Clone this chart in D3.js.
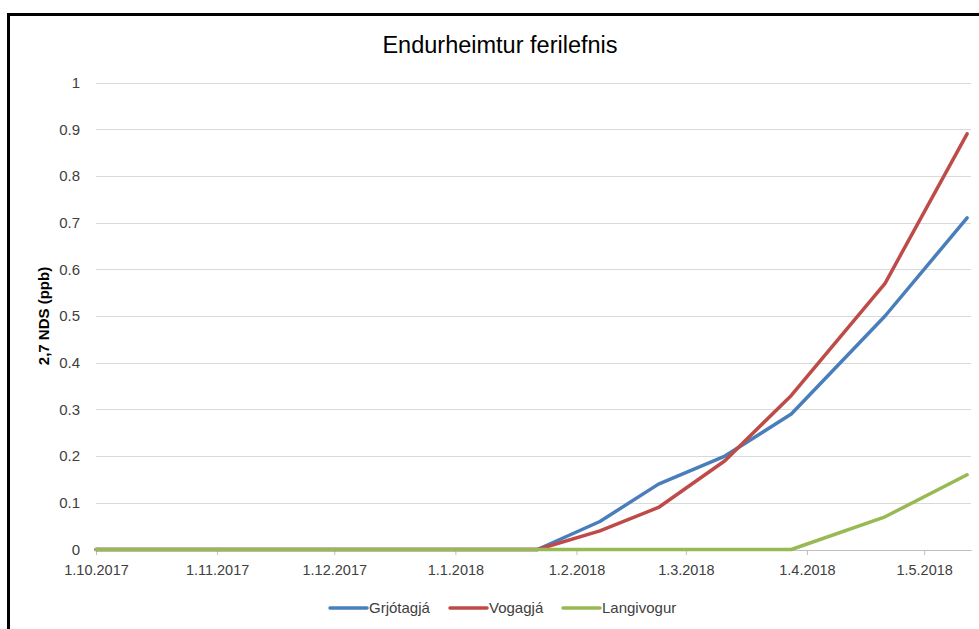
<!DOCTYPE html>
<html>
<head>
<meta charset="utf-8">
<script src="https://cdn.jsdelivr.net/npm/d3@7"></script>
<style>
  body { margin: 0; background: #fff; }
  text { font-family: "Liberation Sans", Arial, sans-serif; }
</style>
</head>
<body>
<script>
// dagsetningar mælinga
const dates = ["2017-10-01", "2018-01-22", "2018-02-07", "2018-02-22", "2018-03-11", "2018-03-28", "2018-04-21", "2018-05-12"]
const grjotagja = [0, 0, 0.06, 0.14, 0.20, 0.29, 0.50, 0.71]
const vogagja = [0, 0, 0.04, 0.09, 0.19, 0.33, 0.57, 0.89]
const langivogur = [0, 0, 0, 0, 0, 0, 0.07, 0.16]
const series_names = ["Grjótagjá", "Vogagjá", "Langivogur"]
const series_colors = ["#4A7EBB", "#BE4B48", "#98B954"]
const x_ticks = ["2017-10-01", "2017-11-01", "2017-12-01", "2018-01-01", "2018-02-01", "2018-03-01", "2018-04-01", "2018-05-01"]
const y_ticks = [0, 0.1, 0.2, 0.3, 0.4, 0.5, 0.6, 0.7, 0.8, 0.9, 1]

const width = 979, height = 629
const parse = d3.utcParse("%Y-%m-%d")
const fmt = d3.utcFormat("%-d.%-m.%Y")

var svg = d3.select("body").append("svg").attr("width", width).attr("height", height)

// rammi
svg.append("rect")
    .attr("x", 8.5).attr("y", 14.5)
    .attr("width", 1000).attr("height", 700)
    .attr("fill", "none").attr("stroke", "#000").attr("stroke-width", 3)

var x = d3.scaleUtc()
    .domain([parse("2017-10-01"), parse("2018-05-13")])
    .range([96, 971])
var y = d3.scaleLinear().domain([0, 1]).range([549.5, 82.5])

// gridlínur
svg.append("g").selectAll("line")
    .data(y_ticks.slice(1))
    .enter().append("line")
    .attr("x1", 96).attr("x2", 971)
    .attr("y1", d => Math.round(y(d)) + 0.5).attr("y2", d => Math.round(y(d)) + 0.5)
    .attr("stroke", "#D9D9D9").attr("stroke-width", 1)

// y ás
var yAxis = svg.append("g")
    .attr("transform", "translate(96,0)")
    .call(d3.axisLeft(y).tickValues(y_ticks).tickSize(0).tickPadding(16).tickFormat(d3.format("")))
yAxis.select(".domain").remove()
yAxis.selectAll("text").attr("font-size", 15).attr("fill", "#404040")

// x ás
var xAxis = svg.append("g")
    .attr("transform", "translate(0,550)")
    .call(d3.axisBottom(x).tickValues(x_ticks.map(parse)).tickSize(5).tickSizeOuter(0).tickPadding(10).tickFormat(fmt))
xAxis.select(".domain").attr("stroke", "#BFBFBF")
xAxis.selectAll(".tick line").attr("stroke", "#BFBFBF")
xAxis.selectAll("text").attr("font-size", 14.5).attr("fill", "#404040")

// ferlar
var all_series = [grjotagja, vogagja, langivogur]
var line = d3.line()
    .x((d, i) => x(parse(dates[i])))
    .y(d => y(d))

svg.append("g").selectAll("path")
    .data(all_series)
    .enter().append("path")
    .attr("d", d => line(d))
    .attr("fill", "none")
    .attr("stroke", (d, i) => series_colors[i])
    .attr("stroke-width", 3.5)
    .attr("stroke-linejoin", "round")
    .attr("stroke-linecap", "round")

// titill
svg.append("text")
    .attr("x", 500).attr("y", 53)
    .attr("text-anchor", "middle")
    .attr("font-size", 23.5)
    .attr("fill", "#000")
    .text("Endurheimtur ferilefnis")

// y ás titill
svg.append("text")
    .attr("transform", "translate(49,316) rotate(-90)")
    .attr("text-anchor", "middle")
    .attr("font-size", 15)
    .attr("font-weight", "bold")
    .attr("fill", "#000")
    .text("2,7 NDS (ppb)")

// skýringar
const legend_x = [330, 450, 563]
var legend = svg.append("g").selectAll("g")
    .data(series_names)
    .enter().append("g")
    .attr("transform", (d, i) => "translate(" + legend_x[i] + ",608)")
legend.append("line")
    .attr("x1", 0).attr("x2", 37)
    .attr("stroke", (d, i) => series_colors[i])
    .attr("stroke-width", 3.5)
    .attr("stroke-linecap", "round")
legend.append("text")
    .attr("x", 39).attr("dy", "0.35em")
    .attr("font-size", 15)
    .attr("fill", "#404040")
    .text(d => d)
</script>
</body>
</html>
